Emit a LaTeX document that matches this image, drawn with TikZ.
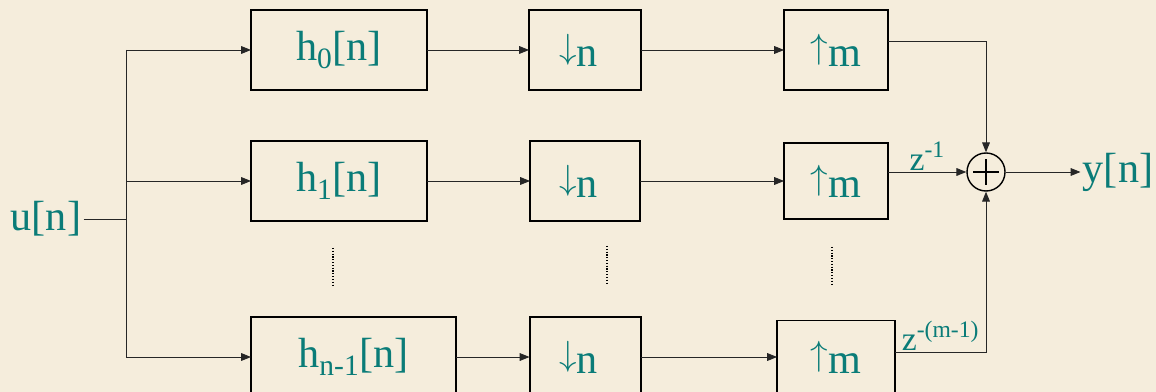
\documentclass[tikz,border=0pt]{standalone}
\usepackage{fontspec}
\setmainfont{Liberation Serif}
\usetikzlibrary{arrows.meta}
\definecolor{paper}{HTML}{F5EDDC}
\definecolor{sigteal}{HTML}{0A7C78}
\newcommand{\dnarrow}{\raisebox{0.19em}{$\downarrow$}}
\newcommand{\uparr}{\raisebox{0.19em}{$\uparrow$}}

\begin{document}
\begin{tikzpicture}[x=0.025cm, y=-0.025cm, >={Triangle[length=7pt,width=5.5pt]},
	font=\fontsize{30}{34}\selectfont, text=sigteal, inner sep=1.5pt]

\tikzstyle{box}=[draw=black, line width=1.4pt, minimum height=2cm, inner sep=0pt, anchor=center]
\tikzstyle{wire}=[black!85, line width=0.6pt]
\tikzstyle{delay}=[font=\fontsize{24}{28}\selectfont, text=sigteal, inner sep=1pt]
\tikzstyle{dotrow}=[black, line width=0.8pt, dash pattern=on 0.8pt off 1.2pt]

\useasboundingbox (0,0) rectangle (1156,392);
\fill[paper] (0,0) rectangle (1156,392);

\matrix[row sep={1.225cm}, column sep={1.775cm}, anchor=north west, inner sep=0pt, outer sep=0pt] at (250,9) {
	\node[box, anchor=west, minimum width=4.4cm] (h0) {h\textsubscript{0}[n]}; &
	\node[box, minimum width=2.8cm] (down0) {\dnarrow n\hspace*{0.3em}}; &[1.575cm]
	\node[box, minimum width=2.6cm] (up0) {\uparr m}; \\
	\node[box, anchor=west, minimum width=4.4cm] (h1) {h\textsubscript{1}[n]}; &
	\node[box, minimum width=2.75cm] (down1) {\dnarrow n\hspace*{0.3em}}; &
	\node[box, minimum width=2.6cm, minimum height=1.9cm] (up1) {\uparr m}; \\[1.125cm]
	\node[box, anchor=west, minimum width=5.125cm] (hn) {h\textsubscript{n-1}[n]}; &
	\node[box, minimum width=2.775cm] (down2) {\dnarrow n\hspace*{0.3em}}; &
	\node[box, minimum width=2.95cm, minimum height=1.825cm] (up2) {\uparr m}; \\
};

% input and branches
\node (u) at (46,219) {u[n]};
\coordinate (bus) at (u -| 126,0);
\draw[wire] (u) -- (bus);
\draw[wire] (bus |- h0) -- (bus |- hn);
\draw[wire,->] (bus |- h0) -- (h0);
\draw[wire,->] (bus |- h1) -- (h1);
\draw[wire,->] (bus |- hn) -- (hn);

\draw[wire,->] (h0) -- (down0);
\draw[wire,->] (down0) -- (up0);
\draw[wire,->] (h1) -- (down1);
\draw[wire,->] (down1) -- (up1);
\draw[wire,->] (hn) -- (down2);
\draw[wire,->] (down2) -- (up2);

\draw[dotrow] (333,248) -- (333,286);
\draw[dotrow] (607,246) -- (607,284);
\draw[dotrow] (832,247) -- (832,285);

% adder
\node[draw=black, circle, line width=1pt, minimum size=0.95cm, inner sep=0pt] (sum) at (986,172) {};
\draw[black, line width=0.8pt] ([xshift=-9pt]sum.center) -- ([xshift=9pt]sum.center);
\draw[black, line width=0.8pt] ([yshift=-9pt]sum.center) -- ([yshift=9pt]sum.center);

\draw[wire,->] ([yshift=6pt]up0.east) -| (sum);
\draw[wire,->] (up1.east |- sum) -- node[above, delay] {z\textsuperscript{-1}} (sum);
\draw[wire,->] ([yshift=3.5pt]up2.east) -| node[pos=0.25, above, delay] {z\textsuperscript{-(m-1)}} (sum);

\node (yout) at (sum -| 1118,0) {y[n]};
\draw[wire,->] (sum) -- (yout);
\end{tikzpicture}
\end{document}
